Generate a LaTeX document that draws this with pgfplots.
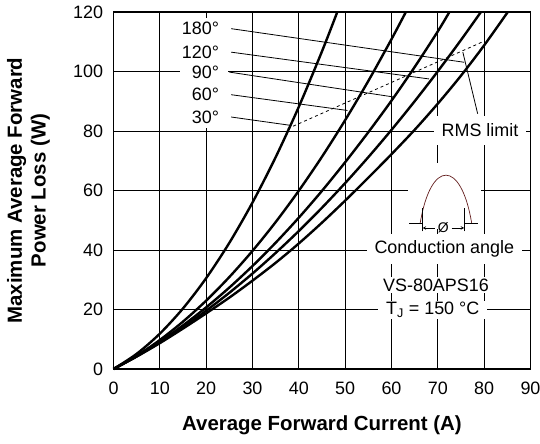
\documentclass[border=0pt]{standalone}
\usepackage{fontspec}
\setmainfont{Liberation Sans}
\usepackage{pgfplots}
\pgfplotsset{compat=1.18}
\definecolor{archred}{RGB}{100,30,30}
\newcommand{\txt}{\fontsize{18}{21}\selectfont}

\begin{document}
\begin{tikzpicture}
\begin{axis}[
    scale only axis,
    width=417bp, height=357bp,
    xmin=0, xmax=90, ymin=0, ymax=120,
    xtick={0,10,...,90}, ytick={0,20,...,120},
    grid=major,
    grid style={black, line width=0.8bp},
    axis line style={line width=1.6bp},
    tick style={draw=none},
    /pgf/number format/assume math mode=true,
    tick label style={font=\txt},
    xticklabel style={anchor=north, yshift=-9bp},
    yticklabel style={anchor=east, xshift=-7bp},
    xlabel={Average Forward Current (A)},
    ylabel={Maximum Average Forward\\Power Loss (W)},
    label style={font=\fontsize{20.5}{24}\selectfont\bfseries},
    xlabel style={at={(axis description cs:0.5,-0.157)}, anchor=center},
    ylabel style={at={(axis description cs:-0.204,0.5)}, anchor=center, align=center},
    clip=false,
]

% white patches over the grid behind the texts
\fill[white] (axis cs:14.4,80.9) rectangle (axis cs:24.8,118.1);
\fill[white] (axis cs:63.5,47.0) rectangle (axis cs:79.3,69.1);

\node[anchor=east, font=\txt, inner sep=0pt] at (axis cs:22.8,114.4) {180°};
\node[anchor=east, font=\txt, inner sep=0pt] at (axis cs:22.8,106.5) {120°};
\node[anchor=east, font=\txt, inner sep=0pt] at (axis cs:22.8,99.8) {90°};
\node[anchor=east, font=\txt, inner sep=0pt] at (axis cs:22.8,92.2) {60°};
\node[anchor=east, font=\txt, inner sep=0pt] at (axis cs:22.8,84.7) {30°};

\node[font=\txt, fill=white, inner xsep=8bp, inner ysep=8bp] at (axis cs:79.1,80.2) {RMS limit};
\node[font=\txt, fill=white, inner xsep=8bp, inner ysep=7bp] at (axis cs:71.4,40.3) {Conduction angle};
\node[font=\txt, fill=white, inner xsep=3bp, inner ysep=2bp] at (axis cs:69.6,28.2) {VS-80APS16};
\node[font=\txt, fill=white, inner xsep=8bp, inner ysep=1bp] at (axis cs:68.9,19.8) {T\textsubscript{J} = 150 °C};

% leader lines
\draw[line width=0.8bp] (axis cs:25.4,114.4) -- (axis cs:75.7,103.1);
\draw[line width=0.8bp] (axis cs:25.4,106.5) -- (axis cs:68.1,97.5);
\draw[line width=0.8bp] (axis cs:25.0,99.8) -- (axis cs:60.6,91.4);
\draw[line width=0.8bp] (axis cs:25.4,92.2) -- (axis cs:50.5,86.9);
\draw[line width=0.8bp] (axis cs:25.4,84.7) -- (axis cs:38.2,81.9);
\draw[line width=0.8bp] (axis cs:78.6,85.8) -- (axis cs:75.4,106.5);

% conduction angle sketch
\draw[archred, line width=0.7bp] (axis cs:66.2,49.1) .. controls (axis cs:68.5,70.5) and (axis cs:75.0,70.5) .. (axis cs:77.3,49.1);
\draw[line width=0.7bp] (axis cs:63.8,49.1) -- (axis cs:66.7,49.1);
\draw[line width=0.7bp] (axis cs:75.7,49.1) -- (axis cs:78.6,49.1);
\draw[line width=0.7bp] (axis cs:66.7,46.3) -- (axis cs:66.7,54.0);
\draw[line width=0.7bp] (axis cs:75.7,46.3) -- (axis cs:75.7,54.0);
\draw[line width=0.6bp, <-, >=stealth] (axis cs:66.7,47.4) -- (axis cs:69.4,47.4);
\draw[line width=0.6bp, ->, >=stealth] (axis cs:73.0,47.4) -- (axis cs:75.7,47.4);
\node[font=\fontsize{14}{16}\selectfont, inner sep=0pt] at (axis cs:71.2,47.4) {Ø};

% RMS limit
\addplot[black, line width=0.8bp, dashed] coordinates {(37.6,80.8) (80.0,110.2)};

% 30 deg
\addplot[black, line width=2.4bp, smooth] coordinates {
(0,0) (5,5.10) (10,11.88) (15,20.36) (20,30.54) (25,42.40) (30,55.96)
(35,71.20) (40,88.14) (45,106.78) (48.3,120)};
% 60 deg
\addplot[black, line width=2.4bp, smooth] coordinates {
(0,0) (5,4.44) (10,9.75) (15,15.93) (20,22.98) (25,30.91) (30,39.71)
(35,49.39) (40,59.94) (45,71.36) (50,83.65) (55,96.82) (60,110.86) (63.1,120)};
% 90 deg
\addplot[black, line width=2.4bp, smooth] coordinates {
(0,0) (5,4.29) (10,9.18) (15,14.65) (20,20.72) (25,27.37) (30,34.62)
(35,42.45) (40,50.87) (45,59.89) (50,69.5) (55,79.6) (60,90.2) (65,101.5)
(70,113.5) (72.5,120)};
% 120 deg
\addplot[black, line width=2.4bp, smooth] coordinates {
(0,0) (5,4.22) (10,8.90) (15,14.02) (20,19.60) (25,25.62) (30,32.09)
(35,39.02) (40,46.39) (45,54.21) (50,62.49) (55,71.21) (60,80.38) (65,90.00)
(70,100.07) (75,110.59) (79.3,120)};
% 180 deg
\addplot[black, line width=2.4bp, smooth] coordinates {
(0,0) (5,4.2) (10,8.7) (15,13.6) (20,18.7) (25,24.0) (30,29.7) (35,35.7)
(40,42.2) (45,49.2) (50,56.6) (55,64.3) (60,72.2) (65,80.4) (70,89.2)
(75,98.6) (80,108.8) (85.1,120)};

\end{axis}
\pgfresetboundingbox
\useasboundingbox (-113.5bp,-75bp) rectangle (426.5bp,369bp);
\end{tikzpicture}
\end{document}
